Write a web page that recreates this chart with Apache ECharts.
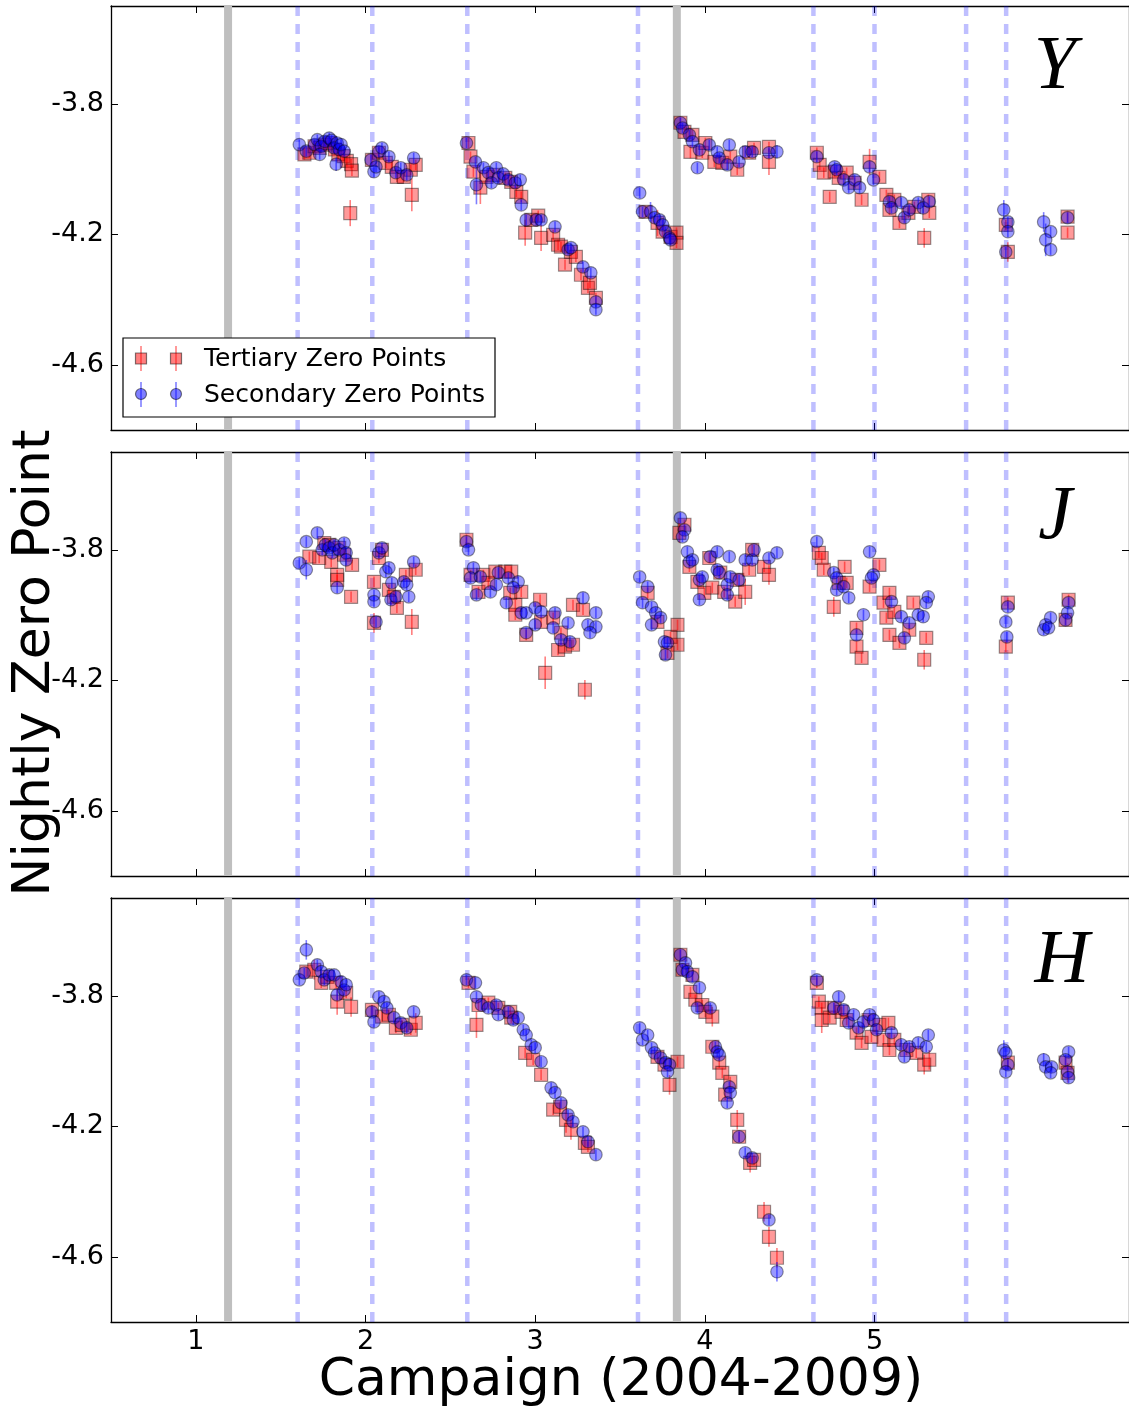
<!DOCTYPE html>
<html><head><meta charset="utf-8">
<script src="https://cdn.jsdelivr.net/npm/echarts@6/dist/echarts.min.js"></script>
<style>html,body{margin:0;padding:0;background:#fff}#c{width:1129px;height:1414px}</style>
</head><body><div id="c"></div>
<script>
// ---------- data ----------
const xTicks = [1, 2, 3, 4, 5];
const yTicks = [-3.8, -4.2, -4.6];
const grayLines = [1.19, 3.835];
const dashLines = [1.60, 2.04, 2.60, 3.606, 4.64, 5.0, 5.54, 5.776];
const bandNames = ['Y', 'J', 'H'];
const legendNames = ['Tertiary Zero Points', 'Secondary Zero Points'];

// [campaign, zero point, (error)]
const Y_tertiary = [
[1.640,-3.955],[1.669,-3.950],[1.700,-3.930],[1.730,-3.935],[1.760,-3.925],[1.790,-3.920],[1.820,-3.940],[1.840,-3.955],[1.870,-3.960],[1.890,-3.975],[1.915,-3.985],[1.920,-4.005],[1.910,-4.135,0.04],
[2.038,-3.972],[2.079,-3.950],[2.120,-3.981],[2.155,-3.993],[2.185,-4.024],[2.226,-4.024],[2.267,-4.002],[2.296,-3.987],[2.273,-4.079,0.05],
[2.607,-3.920],[2.619,-3.962],[2.636,-4.008],[2.677,-4.057,0.05],[2.713,-4.024],[2.754,-4.018],[2.824,-4.027],[2.859,-4.039],[2.889,-4.070],[2.918,-4.085],[2.941,-4.195,0.04],[2.977,-4.156],[3.018,-4.143],[3.035,-4.211,0.04],[3.106,-4.202],[3.135,-4.232],[3.152,-4.238],[3.176,-4.293],[3.211,-4.254],[3.240,-4.269],[3.270,-4.324],[3.311,-4.364],[3.323,-4.349],[3.358,-4.395],
[3.651,-4.131],[3.721,-4.165,0.04],[3.751,-4.192],[3.798,-4.208],[3.833,-4.195],[3.833,-4.226],
[3.856,-3.858],[3.880,-3.886],[3.927,-3.895],[3.915,-3.947,0.02],[3.985,-3.950],[4.003,-3.920],[4.056,-3.978],[4.103,-3.981],[4.150,-3.962],[4.191,-4.002],[4.261,-3.950],[4.290,-3.935],[4.378,-3.932],[4.378,-3.978,0.04],
[4.660,-3.950],[4.677,-3.987],[4.701,-4.011],[4.736,-4.085],[4.765,-4.008],[4.789,-4.027],[4.836,-4.011],[4.883,-4.042],[4.924,-4.094],[4.971,-3.978,0.04],[5.029,-4.024],[5.070,-4.079],[5.088,-4.125],[5.117,-4.094],[5.147,-4.165],[5.200,-4.134],[5.235,-4.116],[5.317,-4.094],[5.323,-4.134],[5.293,-4.211,0.03],
[5.774,-4.171],[5.786,-4.254,0.03],[6.138,-4.146],[6.138,-4.195]
];
const Y_secondary = [
[1.610,-3.925],[1.651,-3.945],[1.700,-3.925],[1.716,-3.910],[1.740,-3.930],[1.760,-3.915],[1.786,-3.905],[1.800,-3.912],[1.815,-3.935],[1.833,-3.920],[1.845,-3.940],[1.856,-3.925],[1.874,-3.945],[1.730,-3.955],[1.827,-3.985,0.02],
[2.032,-3.972],[2.050,-4.008],[2.062,-3.993],[2.079,-3.947],[2.097,-3.935],[2.138,-3.962],[2.179,-4.011],[2.208,-3.996],[2.243,-4.018],[2.284,-3.966],
[2.595,-3.920],[2.648,-3.978],[2.654,-4.048,0.06],[2.695,-3.996],[2.724,-4.011],[2.742,-4.042],[2.771,-3.996],[2.783,-4.027],[2.812,-4.015],[2.842,-4.033],[2.883,-4.042],[2.912,-4.033],[2.918,-4.110],[2.947,-4.156],[3.006,-4.156],[3.035,-4.156],[3.117,-4.177],[3.194,-4.247],[3.211,-4.241],[3.282,-4.300],[3.328,-4.318],[3.358,-4.407],[3.358,-4.431],
[3.616,-4.073],[3.633,-4.131],[3.680,-4.131,0.03],[3.704,-4.149],[3.733,-4.156],[3.751,-4.171],[3.768,-4.192],[3.792,-4.211],[3.798,-4.217],
[3.856,-3.858],[3.868,-3.874],[3.909,-3.895],[3.927,-3.916],[3.968,-3.941],[4.026,-3.926],[4.073,-3.947],[4.085,-3.966],[4.132,-3.987],[4.144,-3.926],[4.202,-3.978],[3.956,-3.996],[4.238,-3.947],[4.279,-3.947],[4.378,-3.950],[4.425,-3.947,0.02],
[4.660,-3.962],[4.765,-3.993],[4.777,-4.002],[4.818,-4.033],[4.848,-4.057],[4.883,-4.033],[4.912,-4.057],[4.971,-3.993],[4.994,-4.033],[5.088,-4.100],[5.100,-4.119],[5.158,-4.103],[5.176,-4.149],[5.205,-4.125],[5.258,-4.103],[5.287,-4.119],[5.323,-4.100],
[5.762,-4.125,0.03],[5.786,-4.162],[5.786,-4.192],[5.774,-4.254],[5.997,-4.162,0.03],[6.038,-4.192],[6.009,-4.217,0.05],[6.038,-4.247],[6.138,-4.149]
];
const J_tertiary = [
[1.669,-3.821],[1.727,-3.825],[1.757,-3.779],[1.786,-3.785],[1.798,-3.837],[1.833,-3.877],[1.833,-3.892],[1.845,-3.794],[1.874,-3.815],[1.915,-3.944],[1.921,-3.846],
[2.050,-3.898],[2.079,-3.825],[2.097,-3.800],[2.138,-3.923],[2.167,-3.944],[2.185,-3.978],[2.238,-3.877],[2.273,-4.021,0.04],[2.296,-3.861],[2.050,-4.024,0.03],
[2.595,-3.769],[2.619,-3.877],[2.666,-3.929],[2.695,-3.877],[2.724,-3.901],[2.765,-3.867],[2.824,-3.867],[2.859,-3.867],[2.853,-3.932],[2.883,-3.969],[2.918,-3.929],[2.883,-3.999],[2.947,-4.061],[3.029,-3.953],[3.035,-4.021],[3.059,-4.177,0.05],[3.106,-4.008],[3.152,-4.054],[3.135,-4.107],[3.176,-4.097],[3.223,-3.969],[3.223,-4.091],[3.282,-3.984],[3.293,-4.229,0.03],
[3.663,-3.932],[3.721,-4.021],[3.798,-4.067],[3.839,-4.030],[3.839,-4.091],[3.780,-4.116],
[3.850,-3.748,0.03],[3.880,-3.723],[3.909,-3.852],[3.956,-3.898],[3.997,-3.932],[4.026,-3.825],[4.044,-3.916],[4.091,-3.870],[4.114,-3.929],[4.179,-3.959],[4.191,-3.892],[4.238,-3.929,0.04],[4.261,-3.861],[4.279,-3.800],[4.349,-3.852],[4.378,-3.877,0.03],
[4.672,-3.809],[4.689,-3.825],[4.701,-3.861],[4.760,-3.975,0.03],[4.789,-3.901],[4.836,-3.901],[4.824,-3.852],[4.894,-4.039],[4.894,-4.097],[4.924,-4.131],[4.971,-3.913],[5.029,-3.846],[5.053,-3.962],[5.070,-4.008],[5.088,-3.932],[5.117,-3.990],[5.088,-4.061],[5.147,-4.085],[5.205,-4.045],[5.229,-3.962],[5.305,-4.070],[5.293,-4.137,0.03],
[5.786,-3.962],[5.774,-4.097],[6.144,-3.953],[6.126,-4.015]
];
const J_secondary = [
[1.610,-3.840],[1.651,-3.775],[1.651,-3.861,0.03],[1.716,-3.748],[1.745,-3.800],[1.763,-3.785],[1.786,-3.794],[1.804,-3.809],[1.815,-3.785],[1.845,-3.800],[1.874,-3.779],[1.886,-3.809],[1.886,-3.831],[1.833,-3.916],
[2.050,-3.938],[2.050,-3.959],[2.062,-4.021],[2.079,-3.809],[2.097,-3.794],[2.120,-3.867],[2.138,-3.855],[2.155,-3.901],[2.150,-3.953],[2.179,-3.944],[2.226,-3.898],[2.243,-3.907],[2.255,-3.944],[2.284,-3.837],
[2.595,-3.775],[2.607,-3.800],[2.636,-3.855],[2.619,-3.886],[2.654,-3.938],[2.677,-3.883],[2.736,-3.929],[2.771,-3.907],[2.783,-3.870],[2.842,-3.886],[2.900,-3.898],[2.871,-3.916],[2.830,-3.962],[2.918,-3.993],[2.947,-3.993],[3.000,-3.978],[3.035,-3.990],[3.000,-4.030],[2.947,-4.054],[3.117,-3.993],[3.106,-4.039],[3.194,-4.024],[3.152,-4.076],[3.205,-4.082],[3.282,-3.947],[3.311,-4.030],[3.358,-3.993],[3.358,-4.036],[3.323,-4.054],
[3.616,-3.883],[3.663,-3.913],[3.633,-3.962],[3.686,-3.975],[3.710,-3.993],[3.739,-4.008],[3.686,-4.030],[3.762,-4.082],[3.780,-4.085],[3.768,-4.122],
[3.856,-3.702],[3.880,-3.739],[3.868,-3.760],[3.897,-3.806],[3.909,-3.837],[3.927,-3.831],[3.968,-3.892],[3.985,-3.883],[3.968,-3.953],[4.032,-3.821],[4.073,-3.806],[4.073,-3.861],[4.085,-3.870],[4.132,-3.907],[4.144,-3.821],[4.150,-3.883],[4.132,-3.938],[4.202,-3.892],[4.238,-3.831],[4.279,-3.831],[4.290,-3.800],[4.378,-3.825],[4.425,-3.809],
[4.660,-3.775],[4.760,-3.870],[4.777,-3.886],[4.777,-3.923],[4.818,-3.913],[4.848,-3.947],[4.935,-3.999],[4.894,-4.061],[4.971,-3.806],[4.994,-3.877],[4.982,-3.886],[5.100,-3.959],[5.158,-4.005],[5.176,-4.070],[5.205,-4.024],[5.258,-3.999],[5.287,-4.005],[5.317,-3.944],[5.305,-3.962],
[5.786,-3.975],[5.774,-4.021],[5.780,-4.067],[5.997,-4.045],[6.009,-4.030],[6.038,-4.008],[6.026,-4.039],[6.144,-3.962],[6.138,-3.993],[6.126,-4.015]
];
const H_tertiary = [
[1.651,-3.726],[1.698,-3.720,0.03],[1.739,-3.760],[1.774,-3.742],[1.827,-3.760],[1.833,-3.818,0.04],[1.886,-3.791],[1.915,-3.834,0.03],
[2.038,-3.843],[2.097,-3.864],[2.138,-3.858],[2.179,-3.898],[2.214,-3.889],[2.267,-3.904],[2.296,-3.883,0.03],
[2.607,-3.760],[2.654,-3.889,0.04],[2.666,-3.828],[2.724,-3.821],[2.783,-3.837],[2.853,-3.849],[2.859,-3.867],[2.941,-3.975],[2.988,-3.996],[3.035,-4.042],[3.106,-4.149],[3.147,-4.140],[3.182,-4.180,0.04],[3.211,-4.211,0.03],[3.293,-4.251],[3.311,-4.263],
[3.721,-3.987],[3.762,-4.011],[3.839,-4.002],[3.792,-4.073,0.03],
[3.856,-3.674],[3.868,-3.720],[3.927,-3.736],[3.915,-3.788],[3.944,-3.812],[3.985,-3.828],[4.003,-3.849],[4.044,-3.864,0.03],[4.044,-3.956],[4.085,-4.005],[4.103,-4.036],[4.150,-4.064],[4.120,-4.103],[4.191,-4.180,0.03],[4.202,-4.232],[4.267,-4.312,0.03],[4.290,-4.303],[4.349,-4.462,0.03],[4.378,-4.539,0.03],[4.425,-4.603,0.03],
[4.660,-3.760],[4.672,-3.818],[4.689,-3.837],[4.689,-3.874,0.04],[4.736,-3.867],[4.765,-3.837],[4.806,-3.849],[4.836,-3.874],[4.894,-3.913],[4.924,-3.944],[4.965,-3.874],[4.982,-3.926],[5.029,-3.889],[5.053,-3.935],[5.082,-3.883],[5.088,-3.966],[5.117,-3.935],[5.188,-3.966],[5.246,-3.975],[5.293,-4.011,0.03],[5.323,-3.996,0.03],
[5.786,-4.005],[6.126,-4.005],[6.138,-4.036,0.03]
];
const H_secondary = [
[1.610,-3.751],[1.639,-3.730],[1.651,-3.659,0.03],[1.716,-3.705],[1.739,-3.726],[1.757,-3.751],[1.786,-3.736],[1.815,-3.736],[1.833,-3.797],[1.856,-3.757],[1.874,-3.782],[1.886,-3.766],
[2.038,-3.849],[2.050,-3.880],[2.079,-3.803],[2.109,-3.818],[2.126,-3.837],[2.167,-3.867],[2.208,-3.883],[2.243,-3.898],[2.284,-3.849],
[2.595,-3.751],[2.648,-3.760],[2.654,-3.803],[2.683,-3.828],[2.724,-3.837],[2.771,-3.828],[2.783,-3.858],[2.842,-3.849],[2.871,-3.874],[2.900,-3.867],[2.930,-3.904],[2.947,-3.920],[2.977,-3.950],[3.000,-3.959],[3.035,-4.002],[3.094,-4.082],[3.117,-4.097],[3.152,-4.128],[3.194,-4.165],[3.223,-4.186],[3.282,-4.217],[3.311,-4.247],[3.358,-4.287],
[3.616,-3.898],[3.633,-3.935],[3.663,-3.920],[3.686,-3.959],[3.704,-3.975],[3.739,-3.990],[3.768,-4.005],[3.792,-4.011],[3.780,-4.033],
[3.856,-3.674],[3.886,-3.699],[3.868,-3.720],[3.897,-3.726],[3.927,-3.742],[3.968,-3.775],[3.956,-3.837],[4.032,-3.837],[4.062,-3.956],[4.073,-3.972],[4.085,-3.981],[4.144,-4.079],[4.150,-4.097],[4.132,-4.128],[4.202,-4.232],[4.238,-4.281],[4.279,-4.297],[4.378,-4.487],[4.425,-4.646,0.03],
[4.660,-3.751],[4.760,-3.837],[4.789,-3.803],[4.818,-3.843],[4.848,-3.883],[4.877,-3.858],[4.906,-3.898],[4.935,-3.880],[4.971,-3.858],[4.994,-3.874],[5.012,-3.904],[5.100,-3.913],[5.158,-3.950],[5.176,-3.987],[5.205,-3.956],[5.258,-3.944],[5.305,-3.956],[5.317,-3.920],
[5.762,-3.966,0.03],[5.774,-3.975],[5.786,-4.011],[5.774,-4.033],[5.997,-3.996,0.02],[6.009,-4.018],[6.044,-4.018],[6.038,-4.036],[6.144,-3.972],[6.126,-3.996],[6.138,-4.033],[6.144,-4.051]
];

// ---------- chart ----------
const X_MIN = 0.5, X_MAX = 6.5, Y_MIN = -4.8, Y_MAX = -3.5;
const DEF_ERR = 0.016;
const panels = [
  {name: bandNames[0], ter: Y_tertiary, sec: Y_secondary},
  {name: bandNames[1], ter: J_tertiary, sec: J_secondary},
  {name: bandNames[2], ter: H_tertiary, sec: H_secondary}
];
const FONT = 'DejaVu Sans';
const GRID_LEFT = 111, GRID_W = 1020, GRID_H = 424;
const gridTops = [6, 452, 898];

const withErr = arr => arr.map(d => [d[0], d[1], d.length > 2 ? d[2] : DEF_ERR]);
const RED_FILL = 'rgba(255,0,0,0.5)', BLUE_FILL = 'rgba(0,0,255,0.5)';
const EDGE = 'rgba(0,0,0,0.5)';
const RED_BAR = 'rgba(255,0,0,0.5)', BLUE_BAR = 'rgba(0,0,255,0.5)';

function errRender(color) {
  return function (params, api) {
    const x = api.value(0), y = api.value(1), e = api.value(2);
    const a = api.coord([x, y + e]), b = api.coord([x, y - e]);
    return {type: 'line', shape: {x1: a[0], y1: a[1], x2: b[0], y2: b[1]},
            style: {stroke: color, lineWidth: 1.6}};
  };
}
function vlineRender(params, api) {
  const x = api.value(0), kind = api.value(1);
  const a = api.coord([x, Y_MAX]), b = api.coord([x, Y_MIN]);
  return {type: 'line', shape: {x1: a[0], y1: a[1], x2: b[0], y2: b[1]},
          style: kind === 0 ? {stroke: '#bfbfbf', lineWidth: 8}
                            : {stroke: 'rgba(0,0,255,0.25)', lineWidth: 4.5, lineDash: [10, 8]}};
}

const grid = [], xAxis = [], yAxis = [], series = [];
const axisLineStyle = {color: '#000', width: 1.3};
panels.forEach((p, i) => {
  grid.push({left: GRID_LEFT, top: gridTops[i], width: GRID_W, height: GRID_H, containLabel: false});
  ['bottom', 'top'].forEach(pos => {
    xAxis.push({gridIndex: i, type: 'value', min: X_MIN, max: X_MAX, position: pos,
      axisLine: {show: true, onZero: false, lineStyle: axisLineStyle},
      axisTick: {show: true, inside: true, length: 7, customValues: xTicks, lineStyle: {color: '#000', width: 1}},
      axisLabel: {show: pos === 'bottom' && i === 2, customValues: xTicks, fontSize: 27, color: '#000',
                  fontFamily: FONT, margin: 6, formatter: v => String(v)},
      splitLine: {show: false}});
  });
  ['left', 'right'].forEach(pos => {
    yAxis.push({gridIndex: i, type: 'value', min: Y_MIN, max: Y_MAX, position: pos,
      axisLine: {show: true, onZero: false, lineStyle: axisLineStyle},
      axisTick: {show: true, inside: true, length: 7, customValues: yTicks, lineStyle: {color: '#000', width: 1}},
      axisLabel: {show: pos === 'left', customValues: yTicks, fontSize: 27, color: '#000',
                  fontFamily: FONT, margin: 7, formatter: v => v.toFixed(1)},
      splitLine: {show: false}});
  });
  const xi = 2 * i, yi = 2 * i;
  const vdata = grayLines.map(x => [x, 0]).concat(dashLines.map(x => [x, 1]));
  series.push({type: 'custom', xAxisIndex: xi, yAxisIndex: yi, renderItem: vlineRender,
               data: vdata, encode: {x: 0}, z: 1, silent: true, clip: true});
  series.push({type: 'custom', xAxisIndex: xi, yAxisIndex: yi, renderItem: errRender(RED_BAR),
               data: withErr(p.ter), encode: {x: 0, y: 1}, z: 2, silent: true, clip: true});
  series.push({type: 'scatter', name: legendNames[0], xAxisIndex: xi, yAxisIndex: yi, symbol: 'rect', symbolSize: 13,
               data: p.ter.map(d => [d[0], d[1]]), z: 3, silent: true,
               itemStyle: {color: RED_FILL, borderColor: EDGE, borderWidth: 1.2}});
  series.push({type: 'custom', xAxisIndex: xi, yAxisIndex: yi, renderItem: errRender(BLUE_BAR),
               data: withErr(p.sec), encode: {x: 0, y: 1}, z: 4, silent: true, clip: true});
  series.push({type: 'scatter', name: legendNames[1], xAxisIndex: xi, yAxisIndex: yi, symbol: 'circle', symbolSize: 12.5,
               data: p.sec.map(d => [d[0], d[1]]), z: 5, silent: true,
               itemStyle: {color: BLUE_FILL, borderColor: EDGE, borderWidth: 1.2}});
});

// legend drawn as graphic (two markers per entry, like matplotlib numpoints=2)
const legendGraphic = [
  {type: 'rect', shape: {x: 123, y: 338, width: 372, height: 79}, style: {fill: '#fff', stroke: '#000', lineWidth: 1.2}, z: 100},
];
[141, 176].forEach(cx => {
  legendGraphic.push({type: 'line', shape: {x1: cx, y1: 346, x2: cx, y2: 371}, style: {stroke: RED_BAR, lineWidth: 1.6}, z: 101});
  legendGraphic.push({type: 'rect', shape: {x: cx - 5.5, y: 353, width: 11, height: 11}, style: {fill: RED_FILL, stroke: EDGE, lineWidth: 1.2}, z: 102});
  legendGraphic.push({type: 'line', shape: {x1: cx, y1: 382, x2: cx, y2: 407}, style: {stroke: BLUE_BAR, lineWidth: 1.6}, z: 101});
  legendGraphic.push({type: 'circle', shape: {cx: cx, cy: 394, r: 5.5}, style: {fill: BLUE_FILL, stroke: EDGE, lineWidth: 1.2}, z: 102});
});
legendGraphic.push({type: 'text', x: 204, y: 359, style: {text: legendNames[0], fontSize: 25, fontFamily: FONT, fill: '#000', align: 'left', verticalAlign: 'middle'}, z: 103});
legendGraphic.push({type: 'text', x: 204, y: 395, style: {text: legendNames[1], fontSize: 25, fontFamily: FONT, fill: '#000', align: 'left', verticalAlign: 'middle'}, z: 103});

const bandLabelX = [1055, 1055, 1062];
const bandLabelY = [68, 518, 962];
const bandGraphic = panels.map((p, i) => ({
  type: 'text', x: bandLabelX[i], y: bandLabelY[i],
  style: {text: p.name, fontSize: 76, fontStyle: 'italic', fontFamily: 'Liberation Serif', fill: '#000',
          align: 'center', verticalAlign: 'middle'}, z: 50
}));

const titleGraphic = [
  {type: 'text', x: 621, y: 1381, style: {text: 'Campaign (2004-2009)', fontSize: 52, fontFamily: FONT, fill: '#000',
    align: 'center', verticalAlign: 'middle'}, z: 50},
  {type: 'text', x: 35, y: 663, rotation: Math.PI / 2, style: {text: 'Nightly Zero Point', fontSize: 52, fontFamily: FONT, fill: '#000',
    align: 'center', verticalAlign: 'middle'}, z: 50}
];

const chart = echarts.init(document.getElementById('c'), null, {renderer: 'canvas'});
chart.setOption({
  backgroundColor: '#fff',
  animation: false,
  grid, xAxis, yAxis, series,
  graphic: legendGraphic.concat(bandGraphic, titleGraphic)
});
</script>
</body></html>
